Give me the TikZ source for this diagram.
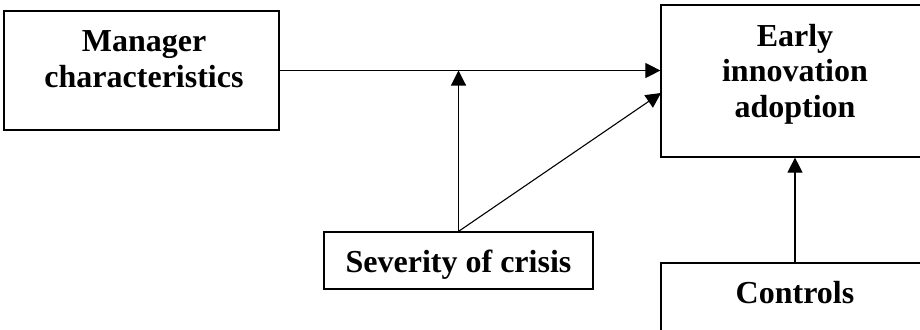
\documentclass[tikz,border=0pt]{standalone}
\usepackage{fontspec}
\setmainfont{Liberation Serif}
\usetikzlibrary{arrows.meta}
\tikzset{
  boxnode/.style={draw=black, line width=1.2pt, inner sep=0pt, minimum width=#1},
  lbl/.style={inner sep=0pt, align=center, font=\fontsize{32}{35.5}\selectfont\bfseries},
  conn/.style={draw=black, line width=1.1pt},
  arr/.style={conn, -{Triangle[length=15pt,width=15pt]}}
}
\begin{document}
\begin{tikzpicture}[x=1pt,y=-1pt]
\useasboundingbox (0,0) rectangle (920,329);
\clip (0,0) rectangle (920,329);
\node[boxnode=275pt, minimum height=119pt] (mgr) at (141.5,70.5) {};
\node[boxnode=268pt, minimum height=152pt] (early) at (795,81) {};
\node[boxnode=269pt, minimum height=57pt] (sev) at (458.5,260.5) {};
\node[boxnode=268pt, minimum height=97pt] (ctrl) at (795,311.5) {};
\node[lbl, anchor=north] (mgrt) at (144,30.5) {Manager\\characteristics};
\node[lbl, anchor=north] (earlyt) at (795,24) {Early\\innovation\\adoption};
\node[lbl, anchor=base] (sevt) at (458.5,272) {Severity of crisis};
\node[lbl, anchor=base] (ctrlt) at (795,303) {Controls};
\coordinate (dtip) at (661,93);
\draw[arr] (mgr.east) -- (mgr.east -| early.west);
\draw[arr] (sev.north) -- (sev.north |- mgr.east);
\draw[arr] (sev.north) -- (dtip);
\draw[arr] (ctrl.north) -- (early.south);
\end{tikzpicture}
\end{document}
